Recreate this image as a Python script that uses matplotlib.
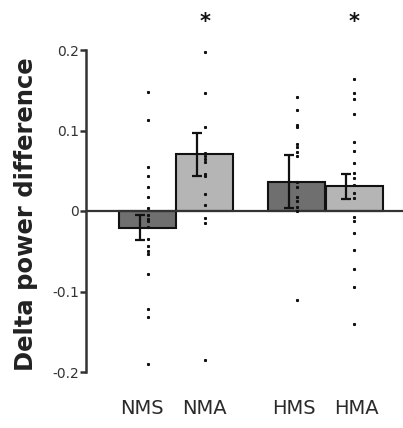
import matplotlib
matplotlib.use("Agg")
import matplotlib.pyplot as plt
import matplotlib.transforms as mtransforms
import numpy as np

categories = ["NMS", "NMA", "HMS", "HMA"]
means = [-0.021, 0.071, 0.036, 0.031]
err_low = [-0.036, 0.043, 0.004, 0.015]
err_high = [-0.005, 0.097, 0.070, 0.046]
dots_nms = [0.148, 0.113, 0.055, 0.043, 0.030, 0.018, 0.004, -0.005, -0.010, -0.013,
            -0.020, -0.035, -0.044, -0.050, -0.053, -0.078, -0.122, -0.132, -0.190]
dots_nma = [0.198, 0.147, 0.104, 0.072, 0.068, 0.065, 0.061, 0.046, 0.043, 0.021,
            0.008, -0.009, -0.015, -0.185]
dots_hms = [0.142, 0.125, 0.107, 0.104, 0.083, 0.080, 0.073, 0.068, 0.036, 0.030,
            0.018, 0.012, 0.005, 0.000, -0.110]
dots_hma = [0.164, 0.147, 0.139, 0.121, 0.086, 0.074, 0.060, 0.047, 0.041, 0.032,
            0.022, 0.016, -0.007, -0.012, -0.027, -0.048, -0.072, -0.095, -0.140]
dots = [dots_nms, dots_nma, dots_hms, dots_hma]
significant = [False, True, False, True]
yticks = [-0.2, -0.1, 0, 0.1, 0.2]
yticklabels = ["-0.2", "-0.1", "0", "0.1", "0.2"]

positions = [1.08, 2.08, 3.70, 4.71]
label_shift = [-0.1, 0.0, -0.05, 0.03]
colors = ["#6f6f6f", "#b5b5b5", "#6f6f6f", "#b5b5b5"]
axcol = "#333333"

fig = plt.figure(figsize=(4.03, 4.28), dpi=100)
ax = fig.add_axes([86/403, 56/428, 1 - 86/403, (372-50)/428])

ax.bar(positions, means, width=1.0, color=colors, edgecolor="#111111", linewidth=1.5, zorder=2)
ax.axhline(0, color=axcol, lw=1.6, zorder=3)

for p, m, lo, hi in zip(positions, means, err_low, err_high):
    xe = p - 0.14
    ax.errorbar([xe], [m], yerr=[[m - lo], [hi - m]], fmt="none", ecolor="#111111",
                elinewidth=1.6, capsize=3.5, capthick=1.6, zorder=4)

for p, d in zip(positions, dots):
    ax.plot([p] * len(d), d, ls="none", marker="s", ms=1.2, color="#111111", zorder=5)

for p, s in zip(positions, significant):
    if s:
        ax.text(p, 0.235, "*", ha="center", va="center", fontsize=15, fontweight="bold",
                color="#111111", clip_on=False)

ax.set_xlim(0, 317/57)
ax.set_ylim(-0.2, 0.2)
for sp in ["top", "right", "bottom"]:
    ax.spines[sp].set_visible(False)
ax.spines["left"].set_color(axcol)
ax.spines["left"].set_linewidth(1.8)
ax.set_yticks(yticks)
ax.set_yticklabels(yticklabels)
ax.tick_params(axis="y", direction="out", length=4, width=1.8, color=axcol,
               labelcolor=axcol, labelsize=10, pad=1)
ax.set_xticks([])

trans = mtransforms.blended_transform_factory(ax.transData, fig.transFigure)
for p, sh, c in zip(positions, label_shift, categories):
    ax.text(p + sh, 1 - 409/428, c, transform=trans, ha="center", va="center",
            fontsize=14, color="#2a2a2a")

ax.set_ylabel("Delta power difference", fontsize=17.5, fontweight="bold", color="#222222")
ax.yaxis.set_label_coords(-(86-38)/317, 0.49)

fig.savefig("out.png", dpi=100, facecolor="white")
